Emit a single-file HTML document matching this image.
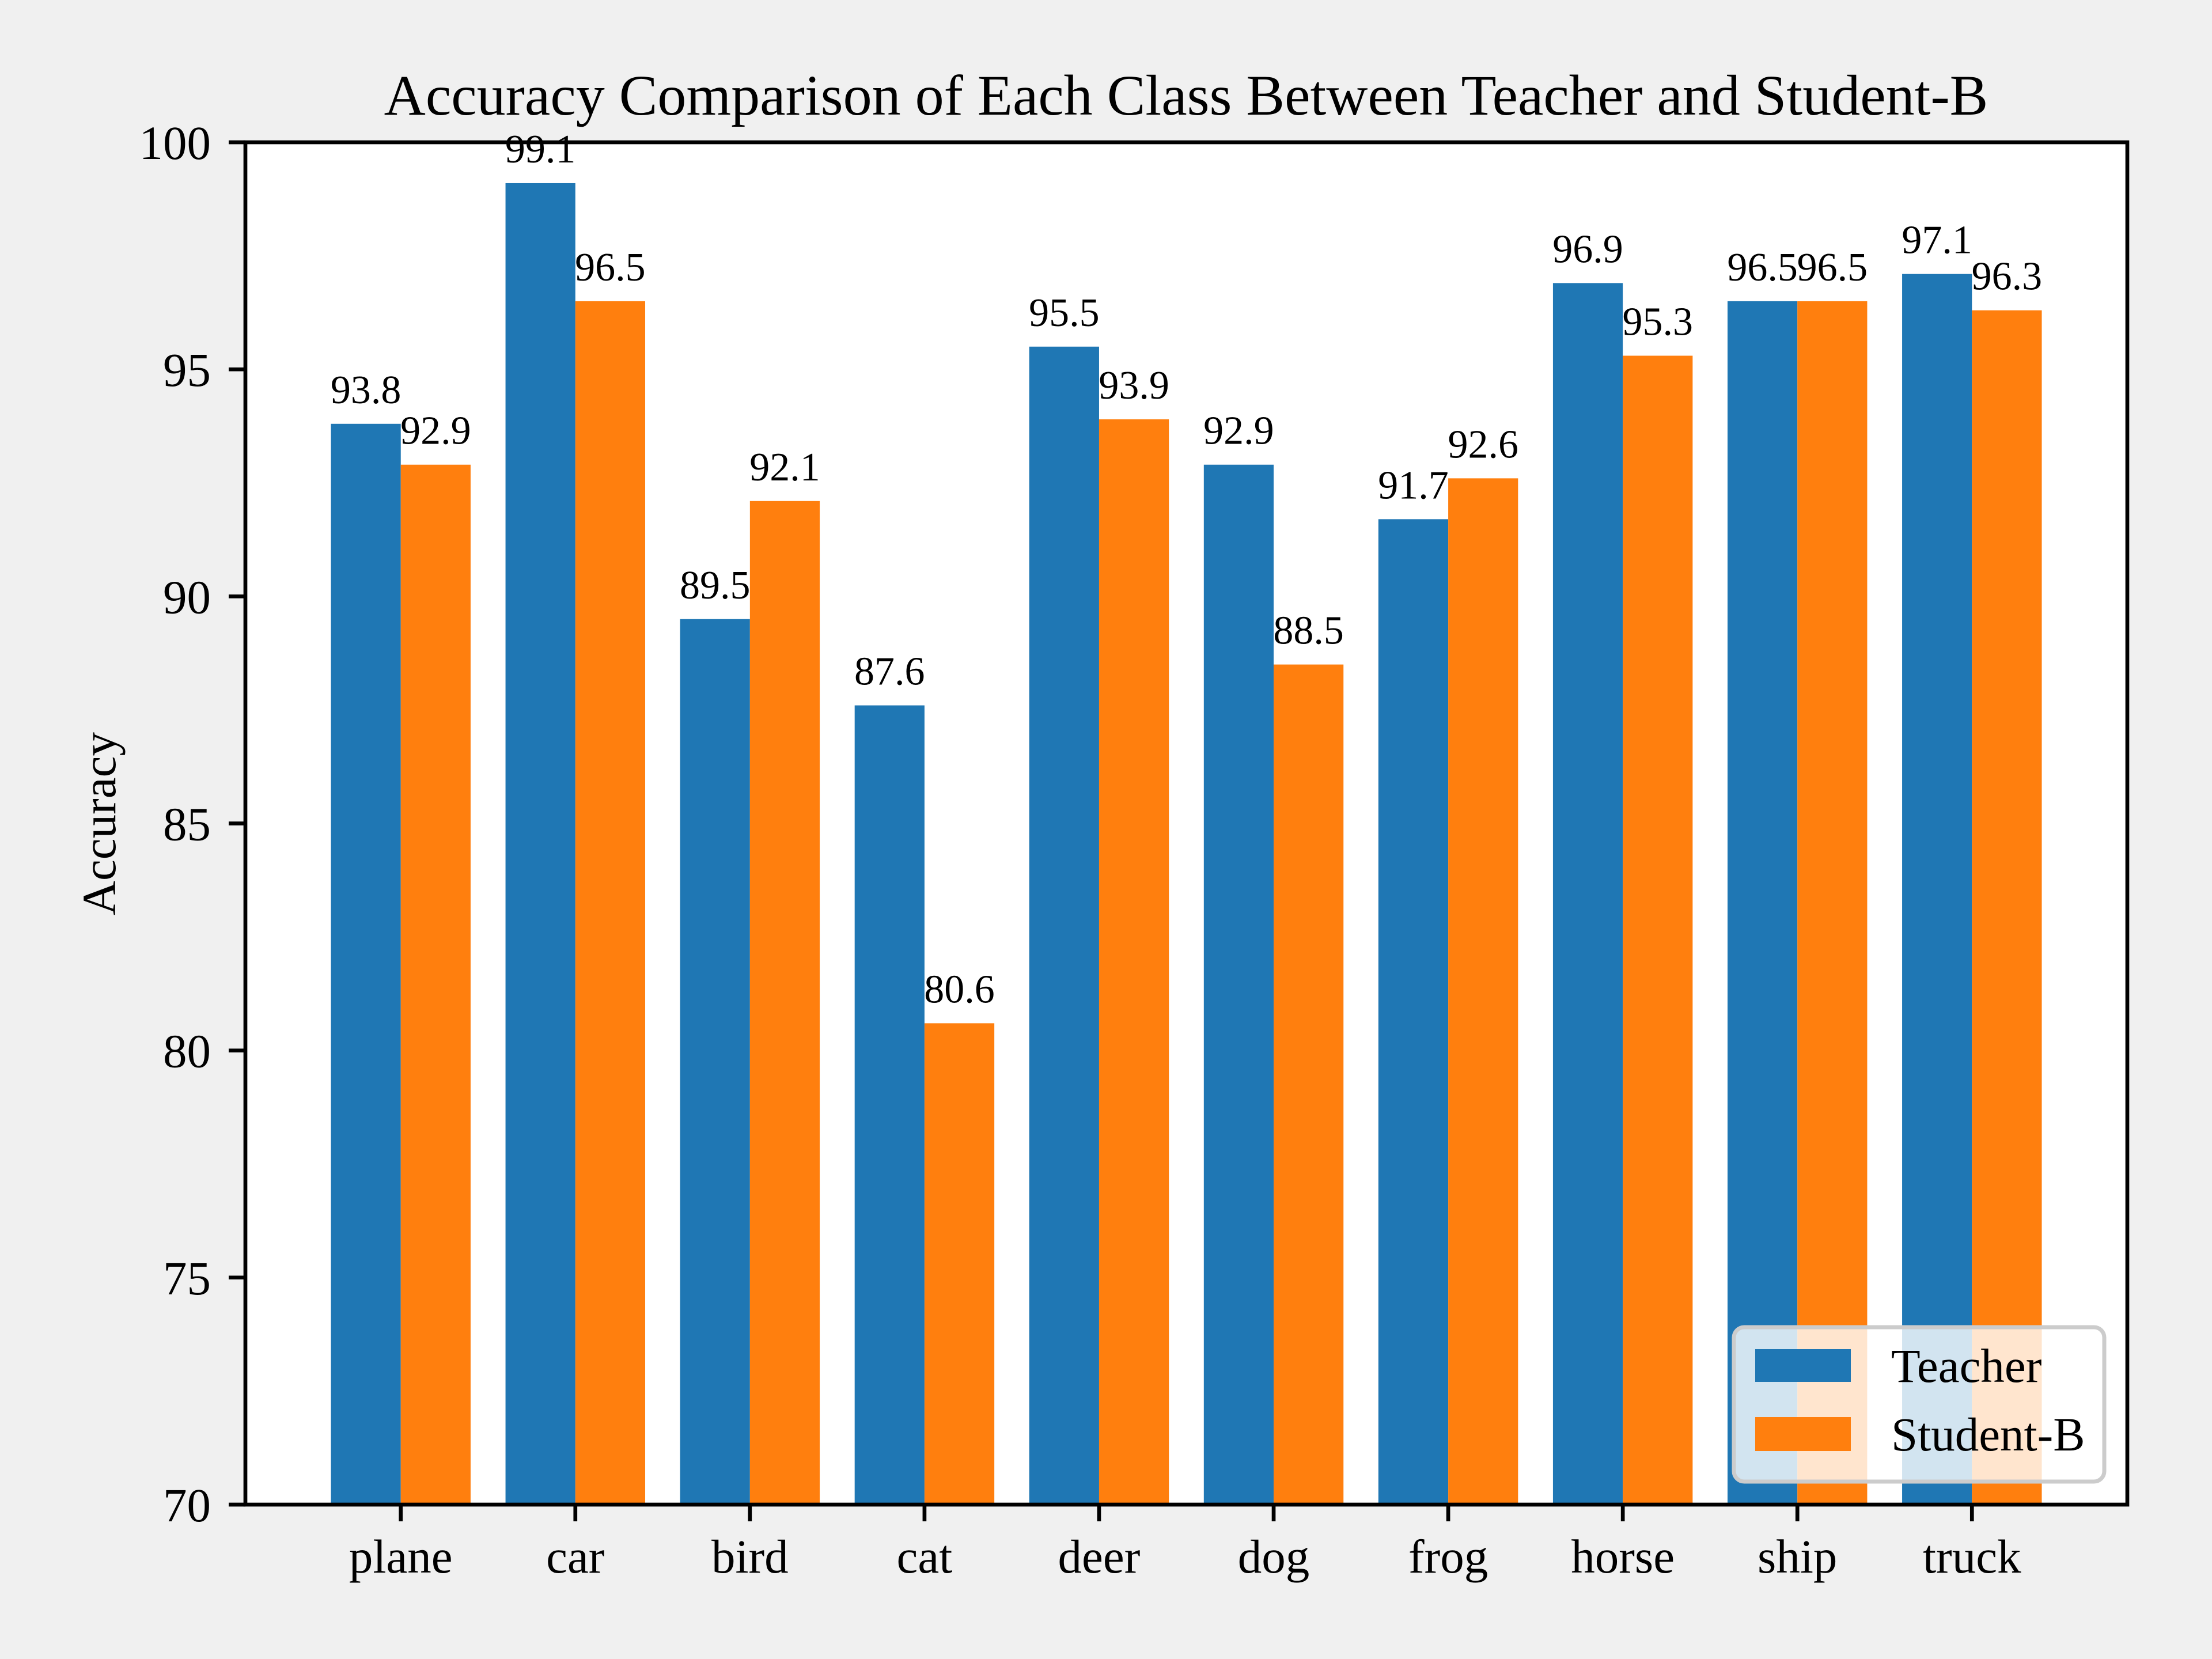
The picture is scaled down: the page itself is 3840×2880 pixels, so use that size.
<!DOCTYPE html>
<html><head><meta charset="utf-8"><style>
html,body{margin:0;padding:0;background:#f0f0f0;}
svg{display:block;font-family:"Liberation Serif","DejaVu Serif",serif;}
</style></head><body>
<svg id="chart" width="3840" height="2880" viewBox="0 0 3840 2880" xmlns="http://www.w3.org/2000/svg">
<rect x="0" y="0" width="3840" height="2880" fill="#f0f0f0"/>
<rect x="426" y="247" width="3267" height="2365" fill="#ffffff"/>
<g id="bars"></g>
<g id="labels"></g>
<g id="axes"></g>
<text x="2059" y="199" font-size="100" text-anchor="middle">Accuracy Comparison of Each Class Between Teacher and Student-B</text>
<text transform="translate(200,1430) rotate(-90)" font-size="83" text-anchor="middle">Accuracy</text>
<g>
<rect x="3010" y="2304" width="643" height="268" rx="18" fill="#ffffff" fill-opacity="0.8" stroke="#cccccc" stroke-width="7"/>
<rect x="3047" y="2342" width="166" height="57" fill="#1f77b4"/>
<text x="3283" y="2399" font-size="83">Teacher</text>
<rect x="3047" y="2460" width="166" height="59" fill="#ff7f0e"/>
<text x="3283" y="2518" font-size="83">Student-B</text>
</g>
</svg>
<script>
const categories = ["plane","car","bird","cat","deer","dog","frog","horse","ship","truck"];
const teacher = [93.8,99.1,89.5,87.6,95.5,92.9,91.7,96.9,96.5,97.1];
const student = [92.9,96.5,92.1,80.6,93.9,88.5,92.6,95.3,96.5,96.3];
const yTicks = [70,75,80,85,90,95,100];

const NS = "http://www.w3.org/2000/svg";
const L = 426, R = 3693, T = 247, B = 2612;
const xMin = -0.89, xMax = 9.89, yMin = 70, yMax = 100;
function xs(v){ return L + (v - xMin) / (xMax - xMin) * (R - L); }
function ys(v){ return B - (v - yMin) / (yMax - yMin) * (B - T); }
function mk(tag, attrs, parent){
  const e = document.createElementNS(NS, tag);
  for (const k in attrs) e.setAttribute(k, attrs[k]);
  parent.appendChild(e);
  return e;
}
const gb = document.getElementById('bars');
const gl = document.getElementById('labels');
const ga = document.getElementById('axes');
const w = 0.4;
function drawSeries(vals, offset, color, name){
  vals.forEach((v, i) => {
    const x0 = xs(i + offset - w/2), x1 = xs(i + offset + w/2);
    const r = mk('rect', {x: x0, y: ys(v), width: x1 - x0, height: B - ys(v), fill: color}, gb);
    
    
    const t = mk('text', {x: (x0 + x1)/2, y: ys(v) - 36, 'font-size': 70, 'text-anchor': 'middle'}, gl);
    t.textContent = v.toFixed(1);
    
    
  });
}
drawSeries(teacher, -w/2, '#1f77b4', 'teacher');
drawSeries(student, w/2, '#ff7f0e', 'student');

const frame = mk('rect', {x: L, y: T, width: R - L, height: B - T, fill: 'none', stroke: '#000', 'stroke-width': 6.7}, ga);


yTicks.forEach(v => {
  const ln = mk('line', {x1: L - 29, x2: L, y1: ys(v), y2: ys(v), stroke: '#000', 'stroke-width': 6.7}, ga);
  
  
  const t = mk('text', {x: L - 60, y: ys(v) + 29, 'font-size': 83, 'text-anchor': 'end'}, ga);
  t.textContent = v;
  
  
});
categories.forEach((c, i) => {
  const ln = mk('line', {x1: xs(i), x2: xs(i), y1: B, y2: B + 29, stroke: '#000', 'stroke-width': 6.7}, ga);
  
  
  const t = mk('text', {x: xs(i), y: 2730, 'font-size': 83, 'text-anchor': 'middle'}, ga);
  t.textContent = c;
  
  
});
</script>
</body></html>
